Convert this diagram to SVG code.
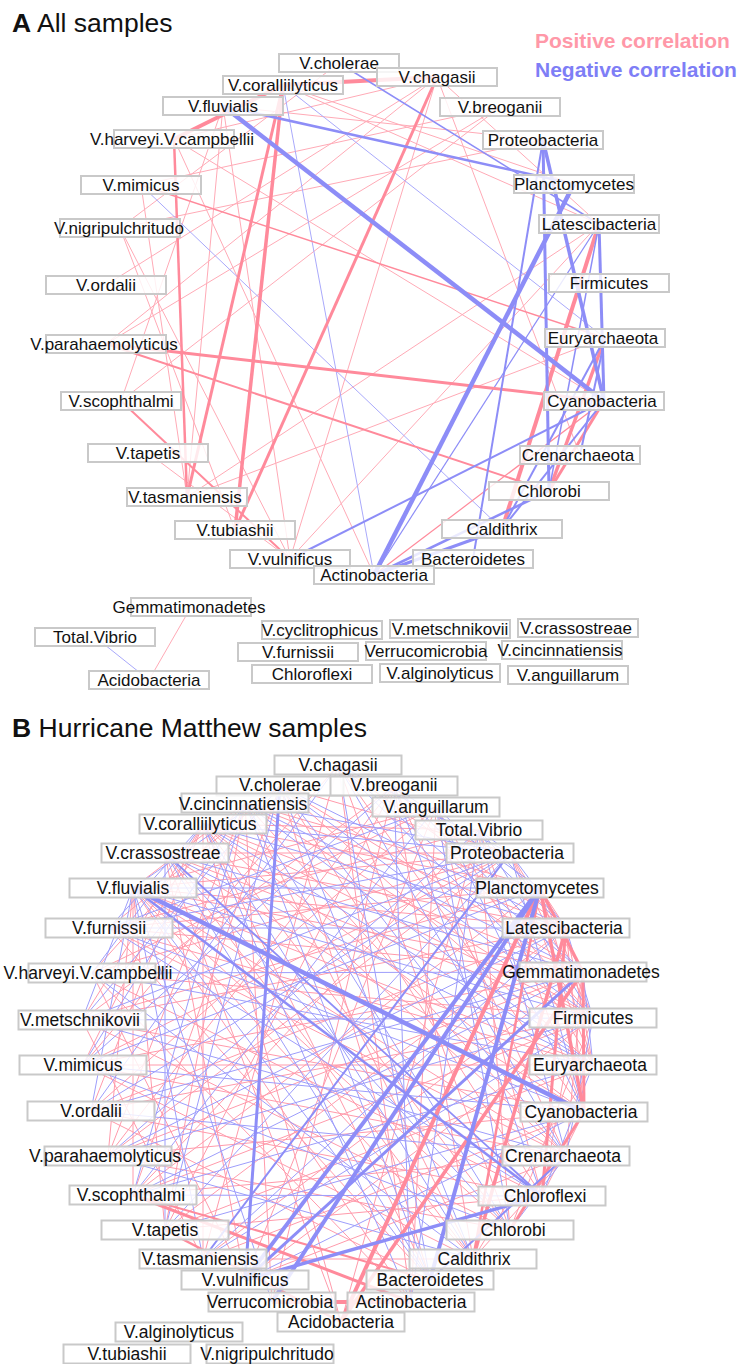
<svg xmlns="http://www.w3.org/2000/svg" width="739" height="1364" viewBox="0 0 739 1364">
<style>
.t{font-family:"Liberation Sans",Arial,sans-serif;font-size:17px;fill:#111;text-anchor:middle}
.tB{font-size:17.5px}
.ttl{font-family:"Liberation Sans",Arial,sans-serif;font-size:26.5px;fill:#111}
.leg{font-family:"Liberation Sans",Arial,sans-serif;font-size:21px;font-weight:bold}
.box{fill:#fff;fill-opacity:.82;stroke:#c9c9c9;stroke-width:2}
line{fill:none}
.p{stroke:#ff8a9b}
.b{stroke:#8d8df7}
.pa{stroke:#ffaab6;stroke-width:1}
.ba{stroke:#a9a9fb;stroke-width:1}
.pl{stroke:#ff9aab;stroke-width:1}
.bl{stroke:#9d9dfb;stroke-width:1}
</style>

<text class="ttl" x="12" y="32"><tspan font-weight="bold">A</tspan> All samples</text>
<text class="leg" x="535" y="48" fill="#ff98a8">Positive correlation</text>
<text class="leg" x="535" y="77" fill="#7e7ef6">Negative correlation</text>

<g id="edges-A">
<line class="pa" x1="120" y1="228" x2="235" y2="530"/>
<line class="pa" x1="500" y1="107" x2="106" y2="344"/>
<line class="pa" x1="223" y1="106" x2="543" y2="140"/>
<line class="pa" x1="191" y1="607" x2="149" y2="680"/>
<line class="pa" x1="121" y1="401" x2="500" y2="107"/>
<line class="pa" x1="148" y1="453" x2="290" y2="559"/>
<line class="pa" x1="187" y1="497" x2="605" y2="338"/>
<line class="pa" x1="290" y1="559" x2="599" y2="224"/>
<line class="pa" x1="120" y1="228" x2="339" y2="63"/>
<line class="pa" x1="141" y1="185" x2="500" y2="107"/>
<line class="pa" x1="106" y1="344" x2="437" y2="77"/>
<line class="pa" x1="223" y1="106" x2="290" y2="559"/>
<line class="pa" x1="141" y1="185" x2="187" y2="497"/>
<line class="pa" x1="106" y1="285" x2="437" y2="77"/>
<line class="pa" x1="120" y1="228" x2="543" y2="140"/>
<line class="pa" x1="223" y1="106" x2="187" y2="497"/>
<line class="pa" x1="223" y1="106" x2="121" y2="401"/>
<line class="pa" x1="120" y1="228" x2="290" y2="559"/>
<line class="pa" x1="437" y1="77" x2="290" y2="559"/>
<line class="pa" x1="187" y1="497" x2="599" y2="224"/>
<line class="pa" x1="174" y1="139" x2="374" y2="575"/>
<line class="pa" x1="283" y1="85" x2="599" y2="224"/>
<line class="pa" x1="283" y1="85" x2="574" y2="184"/>
<line class="pa" x1="437" y1="77" x2="174" y2="139"/>
<line class="pa" x1="437" y1="77" x2="599" y2="224"/>
<line class="pa" x1="437" y1="77" x2="580" y2="455"/>
<line class="pa" x1="174" y1="139" x2="604" y2="401"/>
<line class="ba" x1="283" y1="85" x2="605" y2="338"/>
<line class="ba" x1="283" y1="85" x2="374" y2="575"/>
<line class="ba" x1="141" y1="185" x2="502" y2="529"/>
<line class="ba" x1="95" y1="637" x2="149" y2="680"/>
<line class="b" x1="599" y1="224" x2="374" y2="575" stroke-width="1.2"/>
<line class="p" x1="374" y1="575" x2="604" y2="401" stroke-width="1.2"/>
<line class="p" x1="283" y1="85" x2="437" y2="77" stroke-width="4"/>
<line class="p" x1="174" y1="139" x2="283" y2="85" stroke-width="4"/>
<line class="p" x1="174" y1="139" x2="187" y2="497" stroke-width="2.5"/>
<line class="p" x1="283" y1="85" x2="187" y2="497" stroke-width="3"/>
<line class="p" x1="283" y1="85" x2="235" y2="530" stroke-width="3.5"/>
<line class="p" x1="437" y1="77" x2="235" y2="530" stroke-width="3"/>
<line class="p" x1="106" y1="344" x2="604" y2="401" stroke-width="3"/>
<line class="p" x1="106" y1="344" x2="549" y2="491" stroke-width="2"/>
<line class="p" x1="121" y1="401" x2="290" y2="559" stroke-width="2"/>
<line class="p" x1="141" y1="185" x2="605" y2="338" stroke-width="1.5"/>
<line class="p" x1="599" y1="224" x2="502" y2="529" stroke-width="4"/>
<line class="p" x1="605" y1="338" x2="549" y2="491" stroke-width="3.5"/>
<line class="p" x1="604" y1="401" x2="549" y2="491" stroke-width="3"/>
<line class="b" x1="223" y1="106" x2="604" y2="401" stroke-width="4.5"/>
<line class="b" x1="223" y1="106" x2="574" y2="184" stroke-width="2.5"/>
<line class="b" x1="339" y1="63" x2="599" y2="224" stroke-width="1.5"/>
<line class="b" x1="290" y1="559" x2="604" y2="401" stroke-width="2"/>
<line class="b" x1="374" y1="575" x2="574" y2="184" stroke-width="4.5"/>
<line class="b" x1="543" y1="140" x2="473" y2="559" stroke-width="2"/>
<line class="b" x1="543" y1="140" x2="549" y2="491" stroke-width="3"/>
<line class="b" x1="543" y1="140" x2="604" y2="401" stroke-width="3.5"/>
<line class="b" x1="599" y1="224" x2="604" y2="401" stroke-width="3"/>
<line class="b" x1="374" y1="575" x2="502" y2="529" stroke-width="3"/>
<line class="b" x1="374" y1="575" x2="549" y2="491" stroke-width="2.5"/>
<line class="b" x1="605" y1="338" x2="502" y2="529" stroke-width="2"/>
<line class="b" x1="605" y1="338" x2="580" y2="455" stroke-width="2"/>
<line class="b" x1="604" y1="401" x2="502" y2="529" stroke-width="2"/>
<line class="b" x1="599" y1="224" x2="549" y2="491" stroke-width="1.5"/>
</g>

<g id="nodes-A">
<g id="A-V.cholerae"><rect class="box" x="279" y="54" width="120" height="18"/><text class="t" x="339" y="69">V.cholerae</text></g>
<g id="A-V.coralliilyticus"><rect class="box" x="223" y="76" width="120" height="18"/><text class="t" x="283" y="91">V.coralliilyticus</text></g>
<g id="A-V.chagasii"><rect class="box" x="377" y="68" width="120" height="18"/><text class="t" x="437" y="83">V.chagasii</text></g>
<g id="A-V.fluvialis"><rect class="box" x="163" y="97" width="120" height="18"/><text class="t" x="223" y="112">V.fluvialis</text></g>
<g id="A-V.breoganii"><rect class="box" x="440" y="98" width="120" height="18"/><text class="t" x="500" y="113">V.breoganii</text></g>
<g id="A-V.harveyi.V.campbellii"><rect class="box" x="114" y="130" width="120" height="18"/><text class="t" x="172" y="145">V.harveyi.V.campbellii</text></g>
<g id="A-Proteobacteria"><rect class="box" x="483" y="131" width="120" height="18"/><text class="t" x="543" y="146">Proteobacteria</text></g>
<g id="A-V.mimicus"><rect class="box" x="81" y="176" width="120" height="18"/><text class="t" x="141" y="191">V.mimicus</text></g>
<g id="A-Planctomycetes"><rect class="box" x="514" y="175" width="120" height="18"/><text class="t" x="574" y="190">Planctomycetes</text></g>
<g id="A-V.nigripulchritudo"><rect class="box" x="60" y="219" width="120" height="18"/><text class="t" x="119" y="234">V.nigripulchritudo</text></g>
<g id="A-Latescibacteria"><rect class="box" x="539" y="215" width="120" height="18"/><text class="t" x="599" y="230">Latescibacteria</text></g>
<g id="A-V.ordalii"><rect class="box" x="46" y="276" width="120" height="18"/><text class="t" x="106" y="291">V.ordalii</text></g>
<g id="A-Firmicutes"><rect class="box" x="549" y="274" width="120" height="18"/><text class="t" x="609" y="289">Firmicutes</text></g>
<g id="A-V.parahaemolyticus"><rect class="box" x="46" y="335" width="120" height="18"/><text class="t" x="104" y="350">V.parahaemolyticus</text></g>
<g id="A-Euryarchaeota"><rect class="box" x="545" y="329" width="120" height="18"/><text class="t" x="603" y="344">Euryarchaeota</text></g>
<g id="A-V.scophthalmi"><rect class="box" x="61" y="392" width="120" height="18"/><text class="t" x="121" y="407">V.scophthalmi</text></g>
<g id="A-Cyanobacteria"><rect class="box" x="544" y="392" width="120" height="18"/><text class="t" x="602" y="407">Cyanobacteria</text></g>
<g id="A-V.tapetis"><rect class="box" x="88" y="444" width="120" height="18"/><text class="t" x="148" y="459">V.tapetis</text></g>
<g id="A-Crenarchaeota"><rect class="box" x="520" y="446" width="120" height="18"/><text class="t" x="578" y="461">Crenarchaeota</text></g>
<g id="A-V.tasmaniensis"><rect class="box" x="127" y="488" width="120" height="18"/><text class="t" x="185" y="503">V.tasmaniensis</text></g>
<g id="A-Chlorobi"><rect class="box" x="489" y="482" width="120" height="18"/><text class="t" x="549" y="497">Chlorobi</text></g>
<g id="A-V.tubiashii"><rect class="box" x="175" y="521" width="120" height="18"/><text class="t" x="235" y="536">V.tubiashii</text></g>
<g id="A-Caldithrix"><rect class="box" x="442" y="520" width="120" height="18"/><text class="t" x="502" y="535">Caldithrix</text></g>
<g id="A-V.vulnificus"><rect class="box" x="230" y="550" width="120" height="18"/><text class="t" x="290" y="565">V.vulnificus</text></g>
<g id="A-Bacteroidetes"><rect class="box" x="413" y="550" width="120" height="18"/><text class="t" x="473" y="565">Bacteroidetes</text></g>
<g id="A-Actinobacteria"><rect class="box" x="314" y="566" width="120" height="18"/><text class="t" x="374" y="581">Actinobacteria</text></g>
<g id="A-Gemmatimonadetes"><rect class="box" x="131" y="598" width="120" height="18"/><text class="t" x="189" y="613">Gemmatimonadetes</text></g>
<g id="A-Total.Vibrio"><rect class="box" x="35" y="628" width="120" height="18"/><text class="t" x="95" y="643">Total.Vibrio</text></g>
<g id="A-Acidobacteria"><rect class="box" x="89" y="671" width="120" height="18"/><text class="t" x="149" y="686">Acidobacteria</text></g>
<g id="A-V.cyclitrophicus"><rect class="box" x="262" y="621" width="120" height="18"/><text class="t" x="320" y="636">V.cyclitrophicus</text></g>
<g id="A-V.metschnikovii"><rect class="box" x="390" y="620" width="120" height="18"/><text class="t" x="450" y="635">V.metschnikovii</text></g>
<g id="A-V.crassostreae"><rect class="box" x="518" y="619" width="120" height="18"/><text class="t" x="576" y="634">V.crassostreae</text></g>
<g id="A-V.furnissii"><rect class="box" x="238" y="643" width="120" height="18"/><text class="t" x="298" y="658">V.furnissii</text></g>
<g id="A-Verrucomicrobia"><rect class="box" x="366" y="642" width="120" height="18"/><text class="t" x="426" y="657">Verrucomicrobia</text></g>
<g id="A-V.cincinnatiensis"><rect class="box" x="502" y="641" width="120" height="18"/><text class="t" x="560" y="656">V.cincinnatiensis</text></g>
<g id="A-Chloroflexi"><rect class="box" x="252" y="665" width="120" height="18"/><text class="t" x="312" y="680">Chloroflexi</text></g>
<g id="A-V.alginolyticus"><rect class="box" x="380" y="664" width="120" height="18"/><text class="t" x="440" y="679">V.alginolyticus</text></g>
<g id="A-V.anguillarum"><rect class="box" x="508" y="666" width="120" height="18"/><text class="t" x="568" y="681">V.anguillarum</text></g>
</g>

<text class="ttl" x="12" y="737"><tspan font-weight="bold">B</tspan> Hurricane Matthew samples</text>

<g id="edges-B">
<line class="pl" x1="133" y1="888" x2="510" y2="853"/>
<line class="pl" x1="133" y1="888" x2="566" y2="928"/>
<line class="pl" x1="133" y1="888" x2="583" y2="972"/>
<line class="pl" x1="133" y1="888" x2="593" y2="1065"/>
<line class="pl" x1="133" y1="888" x2="566" y2="1156"/>
<line class="pl" x1="133" y1="888" x2="510" y2="1230"/>
<line class="pl" x1="133" y1="888" x2="473" y2="1259"/>
<line class="pl" x1="133" y1="888" x2="411" y2="1302"/>
<line class="pl" x1="133" y1="888" x2="165" y2="1230"/>
<line class="pl" x1="133" y1="888" x2="133" y2="1195"/>
<line class="pl" x1="133" y1="888" x2="108" y2="1156"/>
<line class="pl" x1="133" y1="888" x2="245" y2="803"/>
<line class="pl" x1="133" y1="888" x2="436" y2="807"/>
<line class="pl" x1="203" y1="824" x2="540" y2="888"/>
<line class="pl" x1="203" y1="824" x2="583" y2="972"/>
<line class="pl" x1="203" y1="824" x2="593" y2="1018"/>
<line class="pl" x1="203" y1="824" x2="584" y2="1112"/>
<line class="pl" x1="203" y1="824" x2="566" y2="1156"/>
<line class="pl" x1="203" y1="824" x2="510" y2="1230"/>
<line class="pl" x1="203" y1="824" x2="430" y2="1280"/>
<line class="pl" x1="203" y1="824" x2="341" y2="1322"/>
<line class="pl" x1="203" y1="824" x2="82" y2="1020"/>
<line class="pl" x1="203" y1="824" x2="83" y2="1065"/>
<line class="pl" x1="203" y1="824" x2="91" y2="1111"/>
<line class="pl" x1="203" y1="824" x2="203" y2="1259"/>
<line class="pl" x1="203" y1="824" x2="479" y2="830"/>
<line class="pl" x1="245" y1="803" x2="540" y2="888"/>
<line class="pl" x1="245" y1="803" x2="566" y2="928"/>
<line class="pl" x1="245" y1="803" x2="593" y2="1018"/>
<line class="pl" x1="245" y1="803" x2="566" y2="1156"/>
<line class="pl" x1="245" y1="803" x2="473" y2="1259"/>
<line class="pl" x1="245" y1="803" x2="272" y2="1302"/>
<line class="pl" x1="245" y1="803" x2="108" y2="1156"/>
<line class="pl" x1="245" y1="803" x2="92" y2="973"/>
<line class="pl" x1="245" y1="803" x2="165" y2="1230"/>
<line class="pl" x1="280" y1="786" x2="510" y2="853"/>
<line class="pl" x1="280" y1="786" x2="583" y2="972"/>
<line class="pl" x1="280" y1="786" x2="593" y2="1065"/>
<line class="pl" x1="280" y1="786" x2="542" y2="1196"/>
<line class="pl" x1="280" y1="786" x2="430" y2="1280"/>
<line class="pl" x1="280" y1="786" x2="109" y2="928"/>
<line class="pl" x1="280" y1="786" x2="133" y2="1195"/>
<line class="pl" x1="338" y1="765" x2="566" y2="928"/>
<line class="pl" x1="338" y1="765" x2="584" y2="1112"/>
<line class="pl" x1="338" y1="765" x2="510" y2="1230"/>
<line class="pl" x1="338" y1="765" x2="411" y2="1302"/>
<line class="pl" x1="338" y1="765" x2="83" y2="1065"/>
<line class="pl" x1="338" y1="765" x2="203" y2="1259"/>
<line class="pl" x1="394" y1="786" x2="593" y2="1018"/>
<line class="pl" x1="394" y1="786" x2="566" y2="1156"/>
<line class="pl" x1="394" y1="786" x2="473" y2="1259"/>
<line class="pl" x1="394" y1="786" x2="272" y2="1302"/>
<line class="pl" x1="394" y1="786" x2="82" y2="1020"/>
<line class="pl" x1="394" y1="786" x2="108" y2="1156"/>
<line class="pl" x1="394" y1="786" x2="165" y2="1230"/>
<line class="pl" x1="436" y1="807" x2="593" y2="1065"/>
<line class="pl" x1="436" y1="807" x2="542" y2="1196"/>
<line class="pl" x1="436" y1="807" x2="411" y2="1302"/>
<line class="pl" x1="436" y1="807" x2="92" y2="973"/>
<line class="pl" x1="436" y1="807" x2="91" y2="1111"/>
<line class="pl" x1="436" y1="807" x2="245" y2="1280"/>
<line class="pl" x1="479" y1="830" x2="584" y2="1112"/>
<line class="pl" x1="479" y1="830" x2="510" y2="1230"/>
<line class="pl" x1="479" y1="830" x2="341" y2="1322"/>
<line class="pl" x1="479" y1="830" x2="109" y2="928"/>
<line class="pl" x1="479" y1="830" x2="133" y2="1195"/>
<line class="pl" x1="165" y1="853" x2="510" y2="853"/>
<line class="pl" x1="165" y1="853" x2="566" y2="928"/>
<line class="pl" x1="165" y1="853" x2="593" y2="1018"/>
<line class="pl" x1="165" y1="853" x2="584" y2="1112"/>
<line class="pl" x1="165" y1="853" x2="473" y2="1259"/>
<line class="pl" x1="165" y1="853" x2="341" y2="1322"/>
<line class="pl" x1="165" y1="853" x2="245" y2="1280"/>
<line class="pl" x1="109" y1="928" x2="540" y2="888"/>
<line class="pl" x1="109" y1="928" x2="583" y2="972"/>
<line class="pl" x1="109" y1="928" x2="593" y2="1065"/>
<line class="pl" x1="109" y1="928" x2="566" y2="1156"/>
<line class="pl" x1="109" y1="928" x2="430" y2="1280"/>
<line class="pl" x1="92" y1="973" x2="510" y2="853"/>
<line class="pl" x1="92" y1="973" x2="593" y2="1018"/>
<line class="pl" x1="92" y1="973" x2="542" y2="1196"/>
<line class="pl" x1="92" y1="973" x2="411" y2="1302"/>
<line class="pl" x1="92" y1="973" x2="245" y2="1280"/>
<line class="pl" x1="82" y1="1020" x2="540" y2="888"/>
<line class="pl" x1="82" y1="1020" x2="566" y2="928"/>
<line class="pl" x1="82" y1="1020" x2="584" y2="1112"/>
<line class="pl" x1="82" y1="1020" x2="510" y2="1230"/>
<line class="pl" x1="82" y1="1020" x2="203" y2="1259"/>
<line class="pl" x1="83" y1="1065" x2="583" y2="972"/>
<line class="pl" x1="83" y1="1065" x2="593" y2="1065"/>
<line class="pl" x1="83" y1="1065" x2="566" y2="1156"/>
<line class="pl" x1="83" y1="1065" x2="473" y2="1259"/>
<line class="pl" x1="83" y1="1065" x2="510" y2="853"/>
<line class="pl" x1="91" y1="1111" x2="566" y2="928"/>
<line class="pl" x1="91" y1="1111" x2="593" y2="1018"/>
<line class="pl" x1="91" y1="1111" x2="542" y2="1196"/>
<line class="pl" x1="91" y1="1111" x2="430" y2="1280"/>
<line class="pl" x1="108" y1="1156" x2="510" y2="853"/>
<line class="pl" x1="108" y1="1156" x2="583" y2="972"/>
<line class="pl" x1="108" y1="1156" x2="584" y2="1112"/>
<line class="pl" x1="108" y1="1156" x2="510" y2="1230"/>
<line class="pl" x1="133" y1="1195" x2="540" y2="888"/>
<line class="pl" x1="133" y1="1195" x2="593" y2="1018"/>
<line class="pl" x1="133" y1="1195" x2="566" y2="1156"/>
<line class="pl" x1="165" y1="1230" x2="566" y2="928"/>
<line class="pl" x1="165" y1="1230" x2="593" y2="1065"/>
<line class="pl" x1="165" y1="1230" x2="542" y2="1196"/>
<line class="pl" x1="203" y1="1259" x2="583" y2="972"/>
<line class="pl" x1="203" y1="1259" x2="584" y2="1112"/>
<line class="pl" x1="203" y1="1259" x2="473" y2="1259"/>
<line class="pl" x1="245" y1="1280" x2="593" y2="1018"/>
<line class="pl" x1="245" y1="1280" x2="566" y2="1156"/>
<line class="pl" x1="510" y1="853" x2="583" y2="972"/>
<line class="pl" x1="510" y1="853" x2="593" y2="1018"/>
<line class="pl" x1="540" y1="888" x2="593" y2="1018"/>
<line class="pl" x1="540" y1="888" x2="593" y2="1065"/>
<line class="pl" x1="566" y1="928" x2="593" y2="1065"/>
<line class="pl" x1="566" y1="928" x2="584" y2="1112"/>
<line class="pl" x1="583" y1="972" x2="566" y2="1156"/>
<line class="pl" x1="583" y1="972" x2="542" y2="1196"/>
<line class="pl" x1="593" y1="1018" x2="510" y2="1230"/>
<line class="pl" x1="593" y1="1065" x2="473" y2="1259"/>
<line class="pl" x1="584" y1="1112" x2="542" y2="1196"/>
<line class="pl" x1="566" y1="1156" x2="473" y2="1259"/>
<line class="pl" x1="510" y1="853" x2="593" y2="1065"/>
<line class="pl" x1="540" y1="888" x2="566" y2="928"/>
<line class="bl" x1="133" y1="888" x2="540" y2="888"/>
<line class="bl" x1="133" y1="888" x2="593" y2="1018"/>
<line class="bl" x1="133" y1="888" x2="430" y2="1280"/>
<line class="bl" x1="133" y1="888" x2="272" y2="1302"/>
<line class="bl" x1="133" y1="888" x2="82" y2="1020"/>
<line class="bl" x1="133" y1="888" x2="91" y2="1111"/>
<line class="bl" x1="133" y1="888" x2="203" y2="1259"/>
<line class="bl" x1="133" y1="888" x2="280" y2="786"/>
<line class="bl" x1="203" y1="824" x2="510" y2="853"/>
<line class="bl" x1="203" y1="824" x2="566" y2="928"/>
<line class="bl" x1="203" y1="824" x2="593" y2="1065"/>
<line class="bl" x1="203" y1="824" x2="473" y2="1259"/>
<line class="bl" x1="203" y1="824" x2="411" y2="1302"/>
<line class="bl" x1="203" y1="824" x2="92" y2="973"/>
<line class="bl" x1="203" y1="824" x2="109" y2="928"/>
<line class="bl" x1="245" y1="803" x2="510" y2="853"/>
<line class="bl" x1="245" y1="803" x2="583" y2="972"/>
<line class="bl" x1="245" y1="803" x2="593" y2="1065"/>
<line class="bl" x1="245" y1="803" x2="510" y2="1230"/>
<line class="bl" x1="245" y1="803" x2="430" y2="1280"/>
<line class="bl" x1="245" y1="803" x2="83" y2="1065"/>
<line class="bl" x1="245" y1="803" x2="133" y2="1195"/>
<line class="bl" x1="280" y1="786" x2="566" y2="928"/>
<line class="bl" x1="280" y1="786" x2="593" y2="1018"/>
<line class="bl" x1="280" y1="786" x2="566" y2="1156"/>
<line class="bl" x1="280" y1="786" x2="473" y2="1259"/>
<line class="bl" x1="280" y1="786" x2="82" y2="1020"/>
<line class="bl" x1="280" y1="786" x2="165" y2="1230"/>
<line class="bl" x1="338" y1="765" x2="510" y2="853"/>
<line class="bl" x1="338" y1="765" x2="583" y2="972"/>
<line class="bl" x1="338" y1="765" x2="593" y2="1018"/>
<line class="bl" x1="338" y1="765" x2="566" y2="1156"/>
<line class="bl" x1="338" y1="765" x2="430" y2="1280"/>
<line class="bl" x1="338" y1="765" x2="91" y2="1111"/>
<line class="bl" x1="394" y1="786" x2="540" y2="888"/>
<line class="bl" x1="394" y1="786" x2="583" y2="972"/>
<line class="bl" x1="394" y1="786" x2="542" y2="1196"/>
<line class="bl" x1="394" y1="786" x2="411" y2="1302"/>
<line class="bl" x1="394" y1="786" x2="83" y2="1065"/>
<line class="bl" x1="436" y1="807" x2="566" y2="928"/>
<line class="bl" x1="436" y1="807" x2="584" y2="1112"/>
<line class="bl" x1="436" y1="807" x2="510" y2="1230"/>
<line class="bl" x1="436" y1="807" x2="109" y2="928"/>
<line class="bl" x1="436" y1="807" x2="133" y2="1195"/>
<line class="bl" x1="479" y1="830" x2="566" y2="928"/>
<line class="bl" x1="479" y1="830" x2="593" y2="1018"/>
<line class="bl" x1="479" y1="830" x2="566" y2="1156"/>
<line class="bl" x1="479" y1="830" x2="411" y2="1302"/>
<line class="bl" x1="479" y1="830" x2="108" y2="1156"/>
<line class="bl" x1="165" y1="853" x2="583" y2="972"/>
<line class="bl" x1="165" y1="853" x2="593" y2="1065"/>
<line class="bl" x1="165" y1="853" x2="510" y2="1230"/>
<line class="bl" x1="165" y1="853" x2="430" y2="1280"/>
<line class="bl" x1="165" y1="853" x2="165" y2="1230"/>
<line class="bl" x1="109" y1="928" x2="510" y2="853"/>
<line class="bl" x1="109" y1="928" x2="566" y2="928"/>
<line class="bl" x1="109" y1="928" x2="584" y2="1112"/>
<line class="bl" x1="109" y1="928" x2="542" y2="1196"/>
<line class="bl" x1="92" y1="973" x2="583" y2="972"/>
<line class="bl" x1="92" y1="973" x2="593" y2="1065"/>
<line class="bl" x1="92" y1="973" x2="473" y2="1259"/>
<line class="bl" x1="82" y1="1020" x2="510" y2="853"/>
<line class="bl" x1="82" y1="1020" x2="593" y2="1018"/>
<line class="bl" x1="82" y1="1020" x2="566" y2="1156"/>
<line class="bl" x1="83" y1="1065" x2="540" y2="888"/>
<line class="bl" x1="83" y1="1065" x2="584" y2="1112"/>
<line class="bl" x1="83" y1="1065" x2="510" y2="1230"/>
<line class="bl" x1="91" y1="1111" x2="510" y2="853"/>
<line class="bl" x1="91" y1="1111" x2="583" y2="972"/>
<line class="bl" x1="91" y1="1111" x2="566" y2="1156"/>
<line class="bl" x1="108" y1="1156" x2="566" y2="928"/>
<line class="bl" x1="108" y1="1156" x2="593" y2="1018"/>
<line class="bl" x1="108" y1="1156" x2="473" y2="1259"/>
<line class="bl" x1="133" y1="1195" x2="583" y2="972"/>
<line class="bl" x1="133" y1="1195" x2="593" y2="1065"/>
<line class="bl" x1="133" y1="1195" x2="542" y2="1196"/>
<line class="bl" x1="165" y1="1230" x2="510" y2="853"/>
<line class="bl" x1="165" y1="1230" x2="584" y2="1112"/>
<line class="bl" x1="203" y1="1259" x2="566" y2="928"/>
<line class="bl" x1="203" y1="1259" x2="593" y2="1018"/>
<line class="bl" x1="245" y1="1280" x2="584" y2="1112"/>
<line class="bl" x1="510" y1="853" x2="584" y2="1112"/>
<line class="bl" x1="540" y1="888" x2="583" y2="972"/>
<line class="bl" x1="566" y1="928" x2="593" y2="1018"/>
<line class="bl" x1="583" y1="972" x2="593" y2="1065"/>
<line class="bl" x1="593" y1="1018" x2="566" y2="1156"/>
<line class="bl" x1="593" y1="1065" x2="542" y2="1196"/>
<line class="bl" x1="566" y1="1156" x2="510" y2="1230"/>
<line class="bl" x1="510" y1="853" x2="566" y2="928"/>
<line class="bl" x1="479" y1="830" x2="510" y2="853"/>
<line class="p" x1="341" y1="1322" x2="540" y2="888" stroke-width="4"/>
<line class="p" x1="341" y1="1322" x2="583" y2="972" stroke-width="3.5"/>
<line class="p" x1="540" y1="888" x2="584" y2="1112" stroke-width="3.5"/>
<line class="p" x1="540" y1="888" x2="583" y2="972" stroke-width="3"/>
<line class="p" x1="566" y1="928" x2="542" y2="1196" stroke-width="3"/>
<line class="p" x1="566" y1="928" x2="473" y2="1259" stroke-width="3.5"/>
<line class="p" x1="583" y1="972" x2="584" y2="1112" stroke-width="3"/>
<line class="p" x1="584" y1="1112" x2="510" y2="1230" stroke-width="3"/>
<line class="p" x1="473" y1="1259" x2="540" y2="888" stroke-width="2.5"/>
<line class="p" x1="133" y1="1195" x2="411" y2="1302" stroke-width="3"/>
<line class="p" x1="133" y1="1195" x2="430" y2="1280" stroke-width="2"/>
<line class="p" x1="165" y1="1230" x2="341" y2="1322" stroke-width="2.5"/>
<line class="p" x1="272" y1="1302" x2="411" y2="1302" stroke-width="4"/>
<line class="b" x1="133" y1="888" x2="584" y2="1112" stroke-width="4.5"/>
<line class="b" x1="133" y1="888" x2="542" y2="1196" stroke-width="2.5"/>
<line class="b" x1="280" y1="786" x2="245" y2="1280" stroke-width="3"/>
<line class="b" x1="245" y1="1280" x2="540" y2="888" stroke-width="4"/>
<line class="b" x1="245" y1="1280" x2="583" y2="972" stroke-width="3"/>
<line class="b" x1="272" y1="1302" x2="540" y2="888" stroke-width="4"/>
<line class="b" x1="430" y1="1280" x2="540" y2="888" stroke-width="4"/>
<line class="b" x1="245" y1="1280" x2="542" y2="1196" stroke-width="3.5"/>
<line class="b" x1="203" y1="1259" x2="510" y2="853" stroke-width="2"/>
<line class="b" x1="165" y1="853" x2="542" y2="1196" stroke-width="1.8"/>
<line class="b" x1="430" y1="1280" x2="566" y2="1156" stroke-width="2"/>
</g>

<g id="nodes-B">
<g id="B-V.chagasii"><rect class="box" x="274.5" y="755.5" width="127" height="19"/><text class="t tB" x="338" y="771">V.chagasii</text></g>
<g id="B-V.cholerae"><rect class="box" x="216.5" y="776.5" width="127" height="19"/><text class="t tB" x="280" y="791">V.cholerae</text></g>
<g id="B-V.breoganii"><rect class="box" x="330.5" y="776.5" width="127" height="19"/><text class="t tB" x="394" y="791">V.breoganii</text></g>
<g id="B-V.cincinnatiensis"><rect class="box" x="181.5" y="793.5" width="127" height="19"/><text class="t tB" x="243" y="810">V.cincinnatiensis</text></g>
<g id="B-V.anguillarum"><rect class="box" x="372.5" y="797.5" width="127" height="19"/><text class="t tB" x="436" y="813">V.anguillarum</text></g>
<g id="B-V.coralliilyticus"><rect class="box" x="139.5" y="814.5" width="127" height="19"/><text class="t tB" x="200" y="830">V.coralliilyticus</text></g>
<g id="B-Total.Vibrio"><rect class="box" x="415.5" y="820.5" width="127" height="19"/><text class="t tB" x="479" y="836">Total.Vibrio</text></g>
<g id="B-V.crassostreae"><rect class="box" x="101.5" y="843.5" width="127" height="19"/><text class="t tB" x="163" y="859">V.crassostreae</text></g>
<g id="B-Proteobacteria"><rect class="box" x="446.5" y="843.5" width="127" height="19"/><text class="t tB" x="507" y="859">Proteobacteria</text></g>
<g id="B-V.fluvialis"><rect class="box" x="69.5" y="878.5" width="127" height="19"/><text class="t tB" x="133" y="894">V.fluvialis</text></g>
<g id="B-Planctomycetes"><rect class="box" x="476.5" y="878.5" width="127" height="19"/><text class="t tB" x="537" y="894">Planctomycetes</text></g>
<g id="B-V.furnissii"><rect class="box" x="45.5" y="918.5" width="127" height="19"/><text class="t tB" x="109" y="934">V.furnissii</text></g>
<g id="B-Latescibacteria"><rect class="box" x="502.5" y="918.5" width="127" height="19"/><text class="t tB" x="564" y="934">Latescibacteria</text></g>
<g id="B-V.harveyi.V.campbellii"><rect class="box" x="28.5" y="963.5" width="127" height="19"/><text class="t tB" x="88" y="979">V.harveyi.V.campbellii</text></g>
<g id="B-Gemmatimonadetes"><rect class="box" x="519.5" y="962.5" width="127" height="19"/><text class="t tB" x="581" y="978">Gemmatimonadetes</text></g>
<g id="B-V.metschnikovii"><rect class="box" x="18.5" y="1010.5" width="127" height="19"/><text class="t tB" x="80" y="1026">V.metschnikovii</text></g>
<g id="B-Firmicutes"><rect class="box" x="529.5" y="1008.5" width="127" height="19"/><text class="t tB" x="593" y="1024">Firmicutes</text></g>
<g id="B-V.mimicus"><rect class="box" x="19.5" y="1055.5" width="127" height="19"/><text class="t tB" x="83" y="1071">V.mimicus</text></g>
<g id="B-Euryarchaeota"><rect class="box" x="529.5" y="1055.5" width="127" height="19"/><text class="t tB" x="590" y="1071">Euryarchaeota</text></g>
<g id="B-V.ordalii"><rect class="box" x="27.5" y="1101.5" width="127" height="19"/><text class="t tB" x="91" y="1117">V.ordalii</text></g>
<g id="B-Cyanobacteria"><rect class="box" x="520.5" y="1102.5" width="127" height="19"/><text class="t tB" x="581" y="1118">Cyanobacteria</text></g>
<g id="B-V.parahaemolyticus"><rect class="box" x="44.5" y="1146.5" width="127" height="19"/><text class="t tB" x="105" y="1162">V.parahaemolyticus</text></g>
<g id="B-Crenarchaeota"><rect class="box" x="502.5" y="1146.5" width="127" height="19"/><text class="t tB" x="563" y="1162">Crenarchaeota</text></g>
<g id="B-V.scophthalmi"><rect class="box" x="69.5" y="1185.5" width="127" height="19"/><text class="t tB" x="131" y="1201">V.scophthalmi</text></g>
<g id="B-Chloroflexi"><rect class="box" x="478.5" y="1186.5" width="127" height="19"/><text class="t tB" x="545" y="1202">Chloroflexi</text></g>
<g id="B-V.tapetis"><rect class="box" x="101.5" y="1220.5" width="127" height="19"/><text class="t tB" x="165" y="1236">V.tapetis</text></g>
<g id="B-Chlorobi"><rect class="box" x="446.5" y="1220.5" width="127" height="19"/><text class="t tB" x="513" y="1236">Chlorobi</text></g>
<g id="B-V.tasmaniensis"><rect class="box" x="139.5" y="1249.5" width="127" height="19"/><text class="t tB" x="200" y="1265">V.tasmaniensis</text></g>
<g id="B-Caldithrix"><rect class="box" x="409.5" y="1249.5" width="127" height="19"/><text class="t tB" x="474" y="1265">Caldithrix</text></g>
<g id="B-V.vulnificus"><rect class="box" x="181.5" y="1270.5" width="127" height="19"/><text class="t tB" x="245" y="1286">V.vulnificus</text></g>
<g id="B-Bacteroidetes"><rect class="box" x="366.5" y="1270.5" width="127" height="19"/><text class="t tB" x="430" y="1286">Bacteroidetes</text></g>
<g id="B-Verrucomicrobia"><rect class="box" x="208.5" y="1292.5" width="127" height="19"/><text class="t tB" x="270" y="1308">Verrucomicrobia</text></g>
<g id="B-Actinobacteria"><rect class="box" x="347.5" y="1292.5" width="127" height="19"/><text class="t tB" x="411" y="1308">Actinobacteria</text></g>
<g id="B-Acidobacteria"><rect class="box" x="277.5" y="1312.5" width="127" height="19"/><text class="t tB" x="341" y="1328">Acidobacteria</text></g>
<g id="B-V.alginolyticus"><rect class="box" x="115.5" y="1322.5" width="127" height="19"/><text class="t tB" x="179" y="1338">V.alginolyticus</text></g>
<g id="B-V.tubiashii"><rect class="box" x="63.5" y="1344.5" width="127" height="19"/><text class="t tB" x="127" y="1360">V.tubiashii</text></g>
<g id="B-V.nigripulchritudo"><rect class="box" x="206.5" y="1344.5" width="127" height="19"/><text class="t tB" x="267" y="1360">V.nigripulchritudo</text></g>
</g>
</svg>
